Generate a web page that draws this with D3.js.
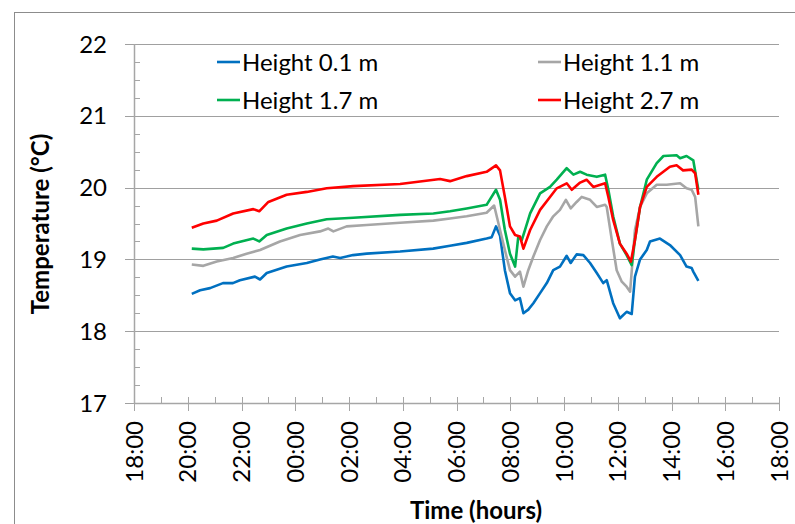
<!DOCTYPE html>
<html>
<head>
<meta charset="utf-8">
<script src="https://cdn.jsdelivr.net/npm/d3@7"></script>
<style>
    body { margin: 0; background: #fff; }
    svg text { font-family: Lato, "Open Sans", sans-serif; fill: #000; }
</style>
</head>
<body>
<script>
//==========================================================//
//  DATA (hours counted from 18:00 of the first day)
//==========================================================//

// x axis tick labels, one every 2 hours
var timeLabels = ["18:00", "20:00", "22:00", "00:00", "02:00", "04:00", "06:00",
                  "08:00", "10:00", "12:00", "14:00", "16:00", "18:00"];
var tempTicks = [17, 18, 19, 20, 21, 22];

var seriesNames = ["Height 0.1 m", "Height 1.1 m", "Height 1.7 m", "Height 2.7 m"];

// Height 0.1 m
var hours01 = [2.15, 2.46, 2.83, 3.31, 3.68, 3.94, 4.50, 4.69, 4.94, 5.68, 6.43, 6.92, 7.40, 7.67,
               8.15, 8.66, 9.90, 11.13, 11.76, 12.38, 13.12, 13.31, 13.47, 13.62, 13.80, 13.99,
               14.18, 14.36, 14.49, 14.67, 14.86, 15.11, 15.36, 15.60, 15.85, 16.10, 16.25, 16.47,
               16.72, 16.97, 17.22, 17.46, 17.59, 17.83, 18.08, 18.33, 18.52, 18.64, 18.83, 19.08,
               19.20, 19.57, 19.94, 20.32, 20.56, 20.75, 20.81, 21.00];
var temp01  = [18.52, 18.57, 18.60, 18.67, 18.67, 18.71, 18.76, 18.72, 18.81, 18.90, 18.95, 19.00, 19.04, 19.02,
               19.06, 19.08, 19.11, 19.15, 19.19, 19.23, 19.29, 19.31, 19.46, 19.33, 18.85, 18.53,
               18.43, 18.46, 18.25, 18.30, 18.39, 18.53, 18.67, 18.85, 18.90, 19.05, 18.95, 19.07,
               19.06, 18.95, 18.81, 18.67, 18.71, 18.39, 18.18, 18.27, 18.24, 18.76, 19.00, 19.13,
               19.25, 19.29, 19.20, 19.06, 18.90, 18.88, 18.83, 18.70];

// Height 1.1 m
var hours11 = [2.15, 2.58, 3.08, 3.69, 4.19, 4.69, 5.43, 6.18, 6.92, 7.23, 7.42, 7.91, 8.66, 9.90,
               11.14, 11.76, 12.38, 13.12, 13.40, 13.80, 13.99, 14.18, 14.36, 14.49, 14.67, 14.86,
               15.11, 15.36, 15.60, 15.85, 16.07, 16.25, 16.47, 16.66, 16.97, 17.22, 17.53, 17.59,
               17.78, 17.96, 18.15, 18.33, 18.46, 18.64, 18.83, 19.08, 19.45, 19.82, 20.32, 20.56,
               20.75, 20.88, 21.00];
var temp11  = [18.93, 18.91, 18.97, 19.02, 19.08, 19.13, 19.25, 19.34, 19.39, 19.43, 19.39, 19.46, 19.48, 19.51,
               19.54, 19.57, 19.60, 19.65, 19.75, 19.13, 18.85, 18.76, 18.83, 18.62, 18.85, 19.04,
               19.27, 19.46, 19.60, 19.69, 19.83, 19.71, 19.80, 19.87, 19.83, 19.73, 19.76, 19.73,
               19.27, 18.85, 18.69, 18.62, 18.55, 19.41, 19.73, 19.92, 20.04, 20.04, 20.06, 19.99,
               19.97, 19.87, 19.46];

// Height 1.7 m
var hours17 = [2.15, 2.58, 3.32, 3.69, 4.44, 4.66, 4.94, 5.68, 6.43, 7.17, 8.16, 9.90, 11.14, 11.76,
               12.38, 13.12, 13.47, 13.62, 13.80, 13.99, 14.18, 14.30, 14.43, 14.55, 14.74, 15.11,
               15.48, 15.73, 16.10, 16.35, 16.60, 16.84, 17.22, 17.53, 17.65, 17.83, 18.08, 18.33,
               18.52, 18.64, 18.83, 19.08, 19.45, 19.70, 20.19, 20.32, 20.56, 20.81, 21.00];
var temp17  = [19.15, 19.14, 19.16, 19.22, 19.29, 19.25, 19.34, 19.43, 19.50, 19.56, 19.58, 19.62, 19.64, 19.67,
               19.71, 19.76, 19.97, 19.83, 19.41, 19.08, 18.90, 19.32, 19.27, 19.41, 19.64, 19.92,
               20.01, 20.11, 20.27, 20.18, 20.22, 20.18, 20.15, 20.18, 19.97, 19.60, 19.22, 19.06,
               18.92, 19.27, 19.73, 20.11, 20.34, 20.44, 20.45, 20.41, 20.44, 20.38, 19.97];

// Height 2.7 m
var hours27 = [2.15, 2.58, 3.08, 3.69, 4.44, 4.66, 5.00, 5.68, 6.43, 7.17, 8.16, 9.90, 11.39, 11.76,
               12.38, 13.12, 13.47, 13.62, 13.80, 13.99, 14.18, 14.36, 14.49, 14.74, 15.11, 15.48,
               15.73, 16.10, 16.29, 16.60, 16.84, 17.09, 17.53, 17.65, 17.83, 18.08, 18.33, 18.49,
               18.64, 18.83, 19.08, 19.45, 19.94, 20.19, 20.43, 20.75, 20.88, 21.00];
var temp27  = [19.44, 19.50, 19.54, 19.64, 19.70, 19.67, 19.80, 19.90, 19.94, 19.99, 20.02, 20.05, 20.12, 20.09,
               20.16, 20.22, 20.31, 20.24, 19.87, 19.46, 19.34, 19.32, 19.15, 19.41, 19.69, 19.87,
               19.99, 20.06, 19.97, 20.07, 20.11, 20.01, 20.06, 19.87, 19.55, 19.22, 19.08, 18.97,
               19.27, 19.73, 20.01, 20.15, 20.29, 20.31, 20.24, 20.25, 20.20, 19.90];

var seriesColors = ["#0070C0", "#A6A6A6", "#00B050", "#FF0000"];

//==========================================================//
//  SVG + SCALES
//==========================================================//
var W = 795, H = 524;
var plot = {left: 134, right: 779, top: 44, bottom: 403};

var svg = d3.select("body").append("svg")
    .attr("width", W)
    .attr("height", H);

// outer chart border
svg.append("rect")
    .attr("x", 14.5).attr("y", 12.5)
    .attr("width", W).attr("height", H)
    .attr("fill", "none")
    .attr("stroke", "#8c8c8c");

var x = d3.scaleLinear().domain([0, 24]).range([plot.left, plot.right]);
var y = d3.scaleLinear().domain([17, 22]).range([plot.bottom, plot.top]);

// horizontal gridlines (with the outward major tick)
svg.append("g")
    .selectAll("line")
    .data(tempTicks)
    .join("line")
        .attr("x1", plot.left - 9)
        .attr("x2", plot.right)
        .attr("y1", function(d) { return Math.round(y(d)) + 0.5; })
        .attr("y2", function(d) { return Math.round(y(d)) + 0.5; })
        .attr("stroke", "#a0a0a0")
        .attr("stroke-width", 1);

// y minor ticks (inside)
svg.append("g")
    .selectAll("line")
    .data(d3.range(17, 22.01, 0.25).filter(function(d) { return d % 1 !== 0; }))
    .join("line")
        .attr("x1", plot.left).attr("x2", plot.left + 6)
        .attr("y1", function(d) { return Math.round(y(d)) + 0.5; })
        .attr("y2", function(d) { return Math.round(y(d)) + 0.5; })
        .attr("stroke", "#a6a6a6");

// y axis line
svg.append("line")
    .attr("x1", plot.left + 0.5).attr("x2", plot.left + 0.5)
    .attr("y1", plot.top).attr("y2", plot.bottom + 1)
    .attr("stroke", "#a6a6a6").attr("stroke-width", 1.5);

// x axis line
svg.append("line")
    .attr("x1", plot.left).attr("x2", plot.right)
    .attr("y1", plot.bottom + 0.5).attr("y2", plot.bottom + 0.5)
    .attr("stroke", "#a6a6a6").attr("stroke-width", 1.5);

// x minor ticks every hour (above axis)
svg.append("g")
    .selectAll("line")
    .data(d3.range(1, 24, 2))
    .join("line")
        .attr("x1", function(d) { return Math.round(x(d)) + 0.5; })
        .attr("x2", function(d) { return Math.round(x(d)) + 0.5; })
        .attr("y1", plot.bottom - 6).attr("y2", plot.bottom)
        .attr("stroke", "#a6a6a6");

// x major ticks every 2 hours (crossing axis)
svg.append("g")
    .selectAll("line")
    .data(timeLabels)
    .join("line")
        .attr("x1", function(d, i) { return Math.round(x(i * 2)) + 0.5; })
        .attr("x2", function(d, i) { return Math.round(x(i * 2)) + 0.5; })
        .attr("y1", plot.bottom - 6).attr("y2", plot.bottom + 8)
        .attr("stroke", "#a6a6a6");

// y tick labels
svg.append("g")
    .selectAll("text")
    .data(tempTicks)
    .join("text")
        .attr("x", 107)
        .attr("y", function(d) { return y(d); })
        .attr("dy", "0.36em")
        .attr("text-anchor", "end")
        .style("font-size", "24px")
        .text(function(d) { return d; });

// x tick labels, rotated
svg.append("g")
    .selectAll("text")
    .data(timeLabels)
    .join("text")
        .attr("transform", function(d, i) { return "translate(" + x(i * 2) + "," + 421 + ") rotate(-90)"; })
        .attr("dy", "0.36em")
        .attr("text-anchor", "end")
        .style("font-size", "24px")
        .text(function(d) { return d; });

// axis titles
svg.append("text")
    .attr("x", 476).attr("y", 519)
    .attr("text-anchor", "middle")
    .style("font-size", "24px")
    .style("font-weight", "bold")
    .text("Time (hours)");

svg.append("text")
    .attr("transform", "translate(49," + 224 + ") rotate(-90)")
    .attr("text-anchor", "middle")
    .style("font-size", "24px")
    .style("font-weight", "bold")
    .text("Temperature (°C)");

//==========================================================//
//  LINES
//==========================================================//
var hoursList = [hours01, hours11, hours17, hours27];
var tempList = [temp01, temp11, temp17, temp27];

var line = d3.line()
    .x(function(d) { return x(d[0]); })
    .y(function(d) { return y(d[1]); });

svg.append("g")
    .selectAll("path")
    .data(seriesNames)
    .join("path")
        .attr("d", function(d, i) { return line(d3.zip(hoursList[i], tempList[i])); })
        .attr("fill", "none")
        .attr("stroke", function(d, i) { return seriesColors[i]; })
        .attr("stroke-width", 2.6)
        .attr("stroke-linejoin", "round");

//==========================================================//
//  LEGEND (2 columns)
//==========================================================//
var legendX = [217, 538], legendY = [62, 100];

var legend = svg.append("g")
    .selectAll("g")
    .data(seriesNames)
    .join("g")
        .attr("transform", function(d, i) { return "translate(" + legendX[i % 2] + "," + legendY[Math.floor(i / 2)] + ")"; });

legend.append("line")
    .attr("x1", 0).attr("x2", 23)
    .attr("y1", 0).attr("y2", 0)
    .attr("stroke", function(d, i) { return seriesColors[i]; })
    .attr("stroke-width", 2.6);

legend.append("text")
    .attr("x", 25)
    .attr("dy", "0.36em")
    .style("font-size", "24px")
    .text(function(d) { return d; });
</script>
</body>
</html>
